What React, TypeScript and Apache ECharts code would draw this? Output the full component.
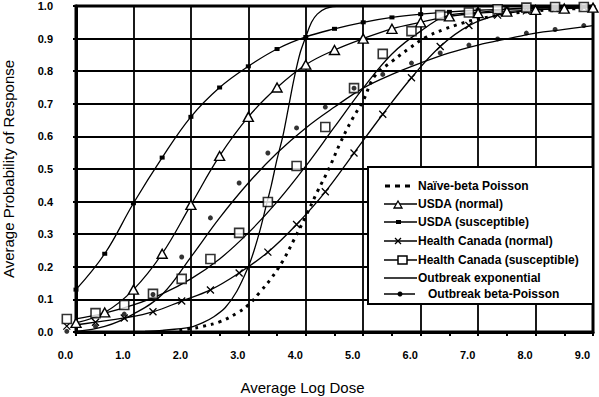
import React, { useEffect, useRef } from "react";
import * as echarts from "echarts";

// ---------- data ----------
const xTickValues = [0, 1, 2, 3, 4, 5, 6, 7, 8, 9];
const yTickValues = [0, 0.1, 0.2, 0.3, 0.4, 0.5, 0.6, 0.7, 0.8, 0.9, 1.0];

// dose positions of the USDA points and of the fitted lines
const gridDose = [0, 0.5, 1, 1.5, 2, 2.5, 3, 3.5, 4, 4.5, 5, 5.5, 6, 6.5, 7, 7.5, 8, 8.5, 9];
// dose positions of the Health Canada / outbreak beta-Poisson markers (drawn slightly left)
const markerDose = [-0.16, 0.34, 0.84, 1.34, 1.84, 2.34, 2.84, 3.34, 3.84, 4.34, 4.84, 5.34, 5.84, 6.34, 6.84, 7.34, 7.84, 8.34, 8.84];

const usdaNormal = [0.028, 0.06, 0.13, 0.24, 0.39, 0.54, 0.66, 0.75, 0.82, 0.865, 0.9, 0.93, 0.95, 0.968, 0.978, 0.983, 0.988, 0.992, 0.995];
const usdaSusceptible = [0.13, 0.24, 0.395, 0.535, 0.66, 0.75, 0.815, 0.868, 0.905, 0.93, 0.95, 0.965, 0.975, 0.982, 0.987, 0.99, 0.993, 0.995, 0.997];
const hcNormal = [0.018, 0.03, 0.043, 0.062, 0.095, 0.129, 0.181, 0.245, 0.33, 0.43, 0.549, 0.668, 0.78, 0.876, 0.94, 0.972, 0.985, 0.992, 0.996];
const hcSusceptible = [0.04, 0.058, 0.083, 0.117, 0.163, 0.224, 0.304, 0.399, 0.509, 0.629, 0.748, 0.853, 0.923, 0.972, 0.98, 0.99, 0.995, 0.997, 0.997];
const outbreakBetaPoisson = [0.002, 0.017, 0.055, 0.115, 0.23, 0.35, 0.457, 0.549, 0.626, 0.69, 0.748, 0.79, 0.825, 0.856, 0.88, 0.899, 0.917, 0.928, 0.94];

const expDose = [1.2, 1.5, 2.0, 2.2, 2.4, 2.6, 2.8, 3.0, 3.1, 3.2, 3.3, 3.4, 3.5, 3.6, 3.7, 3.8, 3.9, 4.0, 4.1, 4.2, 4.35, 4.6, 5.0, 9.0];
const expProb = [0.002, 0.005, 0.015, 0.028, 0.047, 0.075, 0.125, 0.2, 0.25, 0.31, 0.38, 0.45, 0.53, 0.6, 0.69, 0.78, 0.855, 0.905, 0.95, 0.975, 0.993, 1, 1, 1];

const naiveDose = [1.8, 2.0, 2.2, 2.5, 2.8, 3.0, 3.2, 3.4, 3.6, 3.8, 4.0, 4.2, 4.4, 4.6, 4.8, 5.0, 5.2, 5.5, 5.8, 6.1, 6.4, 6.7, 7.0, 7.5, 8.0, 8.5, 9.0];
const naiveProb = [0.005, 0.01, 0.017, 0.031, 0.058, 0.083, 0.122, 0.165, 0.218, 0.285, 0.355, 0.43, 0.5, 0.58, 0.65, 0.71, 0.785, 0.83, 0.87, 0.905, 0.928, 0.946, 0.96, 0.975, 0.985, 0.99, 0.995];

const legendNames = [
  "Naïve-beta Poisson",
  "USDA (normal)",
  "USDA (susceptible)",
  "Health Canada (normal)",
  "Health Canada (susceptible)",
  "Outbreak exponential",
  "Outbreak beta-Poisson",
];

const xAxisTitle = "Average Log Dose";
const yAxisTitle = "Average Probability of Response";

// ---------- helpers ----------
const FONT = '"Liberation Sans", Arial, Helvetica, sans-serif';
const TICK_FONT = `bold 11px ${FONT}`;
const zip = (xs: number[], ys: number[]) => xs.map((x, i) => [x, ys[i]]);
const X_PATH = "path://M0,0L10,10M10,0L0,10";

function buildLegend() {
  const els: any[] = [];
  const z = 100;
  els.push({
    type: "rect",
    z,
    shape: { x: 368, y: 167, width: 225, height: 137 },
    style: { fill: "#fff", stroke: "#000", lineWidth: 2 },
  });
  const rows = [186, 204, 222, 241, 260, 278, 294];
  const lineX1 = 384;
  const lineX2 = 417;
  const ln = (x1: number, y: number, x2: number, extra: any = {}) => ({
    type: "line",
    z: z + 1,
    shape: { x1, y1: y, x2, y2: y },
    style: { stroke: "#000", lineWidth: 1.5, ...extra },
  });
  els.push(ln(385, rows[0], 411, { lineWidth: 3, lineDash: [5, 5] }));
  els.push(ln(lineX1, rows[1], lineX2));
  els.push({
    type: "polygon",
    z: z + 2,
    shape: { points: [[394, rows[1] + 4], [402, rows[1] + 4], [398, rows[1] - 3]] },
    style: { fill: "#fff", stroke: "#000", lineWidth: 1.3 },
  });
  els.push(ln(lineX1, rows[2], lineX2));
  els.push({
    type: "rect",
    z: z + 2,
    shape: { x: 396, y: rows[2] - 2, width: 5, height: 4 },
    style: { fill: "#000" },
  });
  els.push(ln(lineX1, rows[3], lineX2));
  els.push({ type: "line", z: z + 2, shape: { x1: 395, y1: rows[3] - 3, x2: 401, y2: rows[3] + 3 }, style: { stroke: "#000", lineWidth: 1.3 } });
  els.push({ type: "line", z: z + 2, shape: { x1: 395, y1: rows[3] + 3, x2: 401, y2: rows[3] - 3 }, style: { stroke: "#000", lineWidth: 1.3 } });
  els.push(ln(lineX1, rows[4], lineX2));
  els.push({
    type: "rect",
    z: z + 2,
    shape: { x: 398, y: rows[4] - 4, width: 9, height: 8 },
    style: { fill: "#fff", stroke: "#000", lineWidth: 1.5 },
  });
  els.push(ln(lineX1, rows[5], lineX2));
  els.push(ln(lineX1, rows[6], 415));
  els.push({ type: "circle", z: z + 2, shape: { cx: 400, cy: rows[6], r: 2.5 }, style: { fill: "#000" } });

  legendNames.forEach((name, i) => {
    els.push({
      type: "text",
      z: z + 2,
      x: i === 6 ? 428 : 418,
      y: rows[i],
      style: {
        text: name,
        fill: "#000",
        font: `bold 12px ${FONT}`,
        verticalAlign: "middle",
        align: "left",
      },
    });
  });
  return els;
}

export default function App() {
  const ref = useRef<HTMLDivElement>(null);

  useEffect(() => {
    if (!ref.current) return;
    const chart = echarts.init(ref.current, undefined, { renderer: "svg" });

    const black = "#000";
    const lineBase = {
      type: "line",
      smooth: 0.4,
      color: black,
      lineStyle: { color: black, width: 1.3 },
      silent: true,
    };

    const option: any = {
      animation: false,
      backgroundColor: "#fff",
      textStyle: { fontFamily: FONT },
      grid: {
        left: 76,
        top: 6,
        width: 517,
        height: 326,
        show: true,
        borderColor: black,
        borderWidth: 3,
        backgroundColor: "transparent",
        containLabel: false,
        outerBoundsMode: "none",
      },
      xAxis: {
        type: "value",
        min: xTickValues[0],
        max: xTickValues[xTickValues.length - 1],
        interval: 1,
        name: xAxisTitle,
        nameLocation: "middle",
        nameGap: 48,
        nameTextStyle: { fontSize: 15, color: black, fontFamily: FONT, padding: [0, 64, 0, 0] },
        axisLine: { show: true, onZero: false, lineStyle: { color: black, width: 3 } },
        axisTick: { show: true, length: 4, lineStyle: { color: black, width: 2 } },
        minorTick: { show: true, splitNumber: 2, length: 4, lineStyle: { color: black, width: 2 } },
        splitLine: { show: true, lineStyle: { color: black, width: 1.8 } },
        axisLabel: { show: false },
      },
      yAxis: {
        type: "value",
        min: yTickValues[0],
        max: yTickValues[yTickValues.length - 1],
        interval: 0.1,
        name: yAxisTitle,
        nameLocation: "middle",
        nameRotate: 90,
        nameGap: 60,
        nameTextStyle: { fontSize: 15, color: black, fontFamily: FONT },
        axisLine: { show: true, lineStyle: { color: black, width: 3 } },
        axisTick: { show: true, length: 3, lineStyle: { color: black, width: 2 } },
        splitLine: { show: true, lineStyle: { color: black, width: 1.8 } },
        axisLabel: {
          margin: 23,
          fontSize: 11,
          fontWeight: "bold",
          fontFamily: FONT,
          color: black,
          formatter: (v: number) => v.toFixed(1),
        },
      },
      series: [
        { ...lineBase, name: legendNames[5], data: zip(expDose, expProb), symbol: "none", smooth: 0.3 },
        {
          ...lineBase,
          name: legendNames[0],
          data: zip(naiveDose, naiveProb),
          symbol: "none",
          lineStyle: { color: black, width: 3, type: [3, 5] },
        },
        {
          ...lineBase,
          name: legendNames[2],
          data: zip(gridDose, usdaSusceptible),
          symbol: "rect",
          symbolSize: [5, 4],
          itemStyle: { color: black },
          z: 3,
        },
        {
          ...lineBase,
          name: legendNames[1],
          data: zip(gridDose, usdaNormal),
          symbol: "triangle",
          symbolSize: [10, 9],
          itemStyle: { color: "#fff", borderColor: black, borderWidth: 1.4 },
          z: 3,
        },
        {
          ...lineBase,
          name: legendNames[3],
          data: zip(markerDose, hcNormal),
          symbol: X_PATH,
          symbolSize: 7,
          clip: false,
          itemStyle: { color: black, borderColor: black, borderWidth: 1.3 },
          z: 3,
        },
        { ...lineBase, name: legendNames[4], data: zip(gridDose, hcSusceptible), symbol: "none" },
        { ...lineBase, name: legendNames[6], data: zip(gridDose, outbreakBetaPoisson), symbol: "none" },
        {
          type: "scatter",
          name: legendNames[4],
          data: zip(markerDose, hcSusceptible),
          symbol: "rect",
          symbolSize: 9,
          clip: false,
          silent: true,
          itemStyle: { color: "#fff", borderColor: black, borderWidth: 1.6 },
          z: 4,
        },
        {
          type: "scatter",
          name: legendNames[6],
          data: zip(markerDose, outbreakBetaPoisson),
          symbol: "circle",
          symbolSize: 5,
          clip: false,
          silent: true,
          itemStyle: { color: black },
          z: 5,
        },
      ],
      graphic: { elements: buildLegend() },
    };

    chart.setOption(option);

    // x tick labels, positioned from the axis scale, shifted left as in the reference
    const tickLabels = xTickValues.map((v) => {
      const [px, py] = chart.convertToPixel({ xAxisIndex: 0, yAxisIndex: 0 }, [v, 0]) as number[];
      return {
        type: "text",
        z: 50,
        x: px - 10.5,
        y: py + 22.5,
        style: {
          text: v.toFixed(1),
          fill: black,
          font: TICK_FONT,
          align: "center",
          verticalAlign: "middle",
        },
      };
    });
    chart.setOption({ graphic: { elements: [...buildLegend(), ...tickLabels] } });

    return () => chart.dispose();
  }, []);

  return (
    <div
      ref={ref}
      style={{ position: "fixed", left: 0, top: 0, width: 599, height: 397, background: "#fff" }}
    />
  );
}
